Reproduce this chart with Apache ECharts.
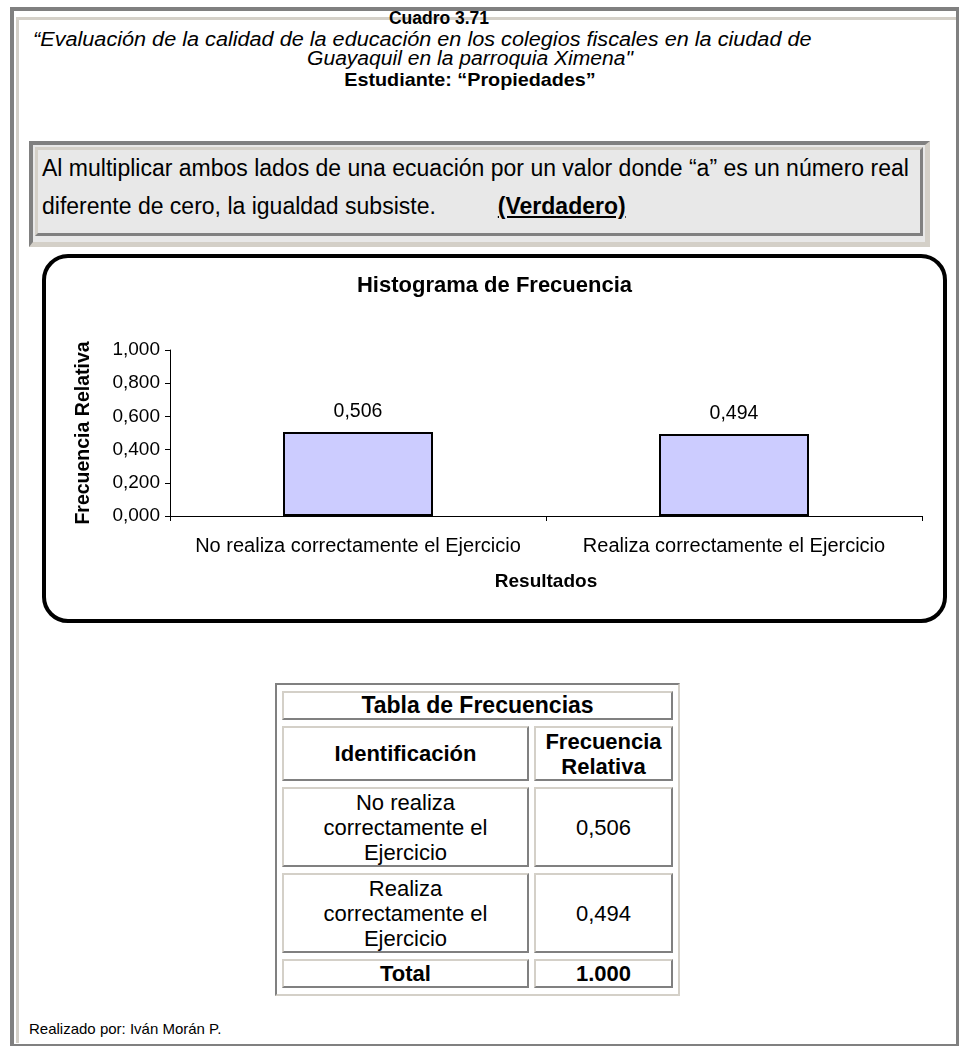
<!DOCTYPE html>
<html>
<head>
<meta charset="utf-8">
<script src="https://cdn.jsdelivr.net/npm/echarts@6/dist/echarts.min.js"></script>
<style>
  body { margin: 0; background: #fff; font-family: "Liberation Sans", Arial, sans-serif; color: #000; }
  .abs { position: absolute; white-space: nowrap; }
  .hd { transform-origin: 0 0; }
  #frame { position: absolute; left: 10px; top: 7px; width: 942px; height: 1033px;
    border-top: 4px solid #808080; border-left: 4px solid #808080;
    border-right: 3px solid #808080; border-bottom: 3px solid #808080; }
  #frameIn { position: absolute; left: 16px; top: 17px; width: 937px; height: 1023px;
    border-top: 3px solid #d4d0c8; border-left: 3px solid #d4d0c8; }
  #qbox { position: absolute; left: 29px; top: 141px; width: 892px; height: 97px;
    border-top: 4px solid #808080; border-left: 4px solid #808080;
    border-right: 5px solid #d4d0c8; border-bottom: 5px solid #d4d0c8; background: #e8e8e8; }
  #qboxIn { position: absolute; left: 35px; top: 147px; width: 882px; height: 83px;
    border-top: 3px solid #d4d0c8; border-left: 3px solid #d4d0c8;
    border-right: 3px solid #808080; border-bottom: 3px solid #808080; background: #e8e8e8; }
  #chartBox { position: absolute; left: 42px; top: 254px; width: 897px; height: 361px;
    border: 4px solid #000; border-radius: 26px; background: #fff; overflow: hidden; }
  #chart { width: 897px; height: 361px; }
  #tabla { position: absolute; left: 275px; top: 683px; width: 405px;
    border-collapse: separate; border-spacing: 5px 6px;
    border-top: 2px solid #808080; border-left: 2px solid #808080;
    border-right: 2px solid #d4d0c8; border-bottom: 2px solid #d4d0c8; }
  #tabla td { border-top: 2px solid #d4d0c8; border-left: 2px solid #d4d0c8;
    border-right: 2px solid #808080; border-bottom: 2px solid #808080;
    text-align: center; font-size: 22px; line-height: 25px; padding: 0; }
  #tabla .b { font-weight: bold; }
</style>
</head>
<body>
<div id="frame"></div>
<div id="frameIn"></div>

<div class="abs" style="left:439px;top:8px;transform:translateX(-50%);font-weight:bold;font-size:17.5px;">Cuadro 3.71</div>
<div class="abs hd" style="left:33px;top:28px;transform:scaleX(1.11);font-style:italic;font-size:19.5px;">“Evaluación de la calidad de la educación en los colegios fiscales en la ciudad de</div>
<div class="abs" style="left:470px;top:47px;transform:translateX(-50%) scaleX(1.08);font-style:italic;font-size:19.5px;">Guayaquil en la parroquia Ximena"</div>
<div class="abs" style="left:470px;top:69px;transform:translateX(-50%) scaleX(1.04);font-weight:bold;font-size:19px;">Estudiante: “Propiedades”</div>

<div id="qbox"></div>
<div id="qboxIn"></div>
<div class="abs" style="left:42px;top:155px;font-size:23px;">Al multiplicar ambos lados de una ecuación por un valor donde “a” es un número real</div>
<div class="abs" style="left:42px;top:193px;font-size:23px;">diferente de cero, la igualdad subsiste.<span style="display:inline-block;width:62px;"></span><b style="text-decoration:underline;">(Verdadero)</b></div>

<div id="chartBox"><div id="chart"></div></div>

<table id="tabla"></table>

<div class="abs" style="left:29px;top:1020px;font-size:15px;">Realizado por: Iván Morán P.</div>

<script>
var chartTitle = 'Histograma de Frecuencia';
var categories = ['No realiza correctamente el Ejercicio', 'Realiza correctamente el Ejercicio'];
var tableNames = ['No realiza<br>correctamente el<br>Ejercicio', 'Realiza<br>correctamente el<br>Ejercicio'];
var values = [0.506, 0.494];
var totalLabel = '1.000';
var yMin = 0, yMax = 1, yStep = 0.2;

function fmt(v) {
  return v.toFixed(3).replace('.', ',');
}

// tabla de frecuencias
var html = '<tr><td colspan="2" class="b" style="height:24px;font-size:23px;">Tabla de Frecuencias</td></tr>' +
  '<tr><td class="b" style="height:51px;width:243px;">Identificación</td><td class="b">Frecuencia<br>Relativa</td></tr>';
for (var i = 0; i < values.length; i++) {
  html += '<tr><td style="height:76px;">' + tableNames[i] + '</td><td>' + fmt(values[i]) + '</td></tr>';
}
html += '<tr><td class="b" style="height:25px;">Total</td><td class="b">' + totalLabel + '</td></tr>';
document.getElementById('tabla').innerHTML = html;

var option = {
  animation: false,
  textStyle: { fontFamily: '"Liberation Sans", Arial, sans-serif', color: '#000' },
  title: {
    text: chartTitle,
    left: 'center',
    top: 12,
    textStyle: { fontSize: 22, fontWeight: 'bold', color: '#000' }
  },
  grid: { left: 124, right: 21, top: 92, bottom: 103 },
  xAxis: {
    type: 'category',
    data: categories,
    name: 'Resultados',
    nameLocation: 'middle',
    nameGap: 56,
    nameTextStyle: { fontSize: 19, fontWeight: 'bold', color: '#000' },
    axisLine: { lineStyle: { color: '#000', width: 1 } },
    axisTick: { show: true, length: 5, lineStyle: { color: '#000' } },
    axisLabel: { interval: 0, hideOverlap: false, fontSize: 20, color: '#000', margin: 20 }
  },
  yAxis: {
    type: 'value',
    min: yMin,
    max: yMax,
    interval: yStep,
    name: 'Frecuencia Relativa',
    nameLocation: 'middle',
    nameGap: 76,
    nameTextStyle: { fontSize: 19.5, fontWeight: 'bold', color: '#000' },
    axisLine: { show: true, lineStyle: { color: '#000', width: 1 } },
    axisTick: { show: true, length: 5, lineStyle: { color: '#000' } },
    axisLabel: { fontSize: 19, color: '#000', margin: 10, formatter: fmt },
    splitLine: { show: false }
  },
  series: [{
    type: 'bar',
    data: values,
    barWidth: 150,
    itemStyle: { color: '#ccccff', borderColor: '#000', borderWidth: 2 },
    label: {
      show: true,
      position: 'top',
      distance: 10,
      fontSize: 19.5,
      color: '#000',
      formatter: function (p) { return fmt(p.value); }
    }
  }]
};
var my = echarts.init(document.getElementById('chart'));
my.setOption(option);
</script>
</body>
</html>
